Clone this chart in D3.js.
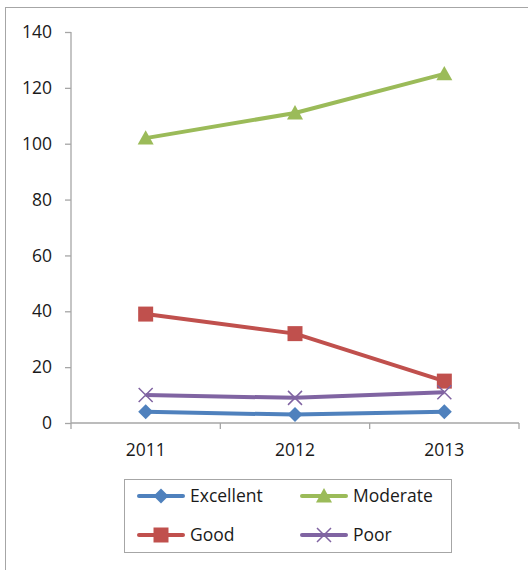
<!DOCTYPE html>
<html lang="en">
<head>
    <meta charset="UTF-8">
    <script src="https://d3js.org/d3.v7.min.js"></script>
    <style>
        body { margin: 0; background: #fff; }
        svg { display: block; font-family: "Open Sans", Lato, sans-serif; }
    </style>
</head>
<body>
    <svg width="528" height="570"></svg>
    <script>
        const years = ['2011', '2012', '2013'];
        const excellent = [4, 3, 4];
        const good = [39, 32, 15];
        const moderate = [102, 111, 125];
        const poor = [10, 9, 11];
        const yTicks = [0, 20, 40, 60, 80, 100, 120, 140];

        const series = [
            { name: 'Excellent', values: excellent, color: '#4F81BD', marker: 'diamond' },
            { name: 'Good', values: good, color: '#C0504D', marker: 'square' },
            { name: 'Moderate', values: moderate, color: '#9BBB59', marker: 'triangle' },
            { name: 'Poor', values: poor, color: '#8064A2', marker: 'cross' }
        ];

        const margin = { top: 32, left: 71, right: 519, bottom: 423 };
        const fontSize = 17.5;
        const textColor = '#1a1a1a';
        const svg = d3.select('svg');

        // chart frame
        svg.append('rect')
            .attr('x', 5.5).attr('y', 7.5)
            .attr('width', 540).attr('height', 580)
            .attr('fill', 'none').attr('stroke', '#a6a6a6');

        const xScale = d3.scaleBand()
            .domain(years)
            .range([margin.left, margin.right]);

        const yScale = d3.scaleLinear()
            .domain([0, 140])
            .range([margin.bottom, margin.top]);

        const yAxis = d3.axisLeft(yScale).tickValues(yTicks).tickSize(6).tickPadding(13);
        const yg = svg.append('g')
            .attr('transform', `translate(${margin.left}, 0)`)
            .call(yAxis);

        const xAxis = d3.axisBottom(xScale).tickSize(0).tickPadding(21);
        const xg = svg.append('g')
            .attr('transform', `translate(0, ${margin.bottom})`)
            .call(xAxis);
        // category boundary ticks
        const bounds = years.map(y => xScale(y)).concat([margin.right]);
        xg.selectAll('.bound')
            .data(bounds)
            .enter().append('line')
            .attr('class', 'bound')
            .attr('x1', d => d).attr('x2', d => d)
            .attr('y1', 0).attr('y2', 6);

        [yg, xg].forEach(g => {
            g.selectAll('path.domain').attr('stroke', '#a6a6a6').attr('stroke-width', 1.3);
            g.selectAll('line').attr('stroke', '#a6a6a6').attr('stroke-width', 1.3);
            g.selectAll('text').attr('font-size', fontSize).attr('fill', textColor)
                .attr('font-family', '"Open Sans", Lato, sans-serif');
        });
        yg.select('path.domain').attr('d', `M0,${margin.top}V${margin.bottom}`);
        xg.select('path.domain').attr('d', `M${margin.left},0H${margin.right}`);

        // marker shapes, half-size in px
        const markerPath = {
            diamond: r => `M0,${-r}L${r},0L0,${r}L${-r},0Z`,
            square: r => `M${-r},${-r}H${r}V${r}H${-r}Z`,
            triangle: r => `M0,${-r}L${r},${r * 0.8}L${-r},${r * 0.8}Z`,
            cross: r => `M${-r},${-r}L${r},${r}M${r},${-r}L${-r},${r}`
        };
        const markerSize = { diamond: 7.5, square: 7.5, triangle: 8, cross: 7 };

        function drawMarker(g, s, x, y) {
            const m = g.append('path')
                .attr('d', markerPath[s.marker](markerSize[s.marker]))
                .attr('transform', `translate(${x}, ${y})`);
            if (s.marker === 'cross') {
                m.attr('fill', 'none').attr('stroke', s.color).attr('stroke-width', 1.5);
            } else {
                m.attr('fill', s.color);
            }
        }

        const cx = d => xScale(d) + xScale.bandwidth() / 2;
        const line = d3.line()
            .x((d, i) => cx(years[i]))
            .y(d => yScale(d));

        series.forEach(s => {
            const g = svg.append('g');
            g.append('path')
                .datum(s.values)
                .attr('d', line)
                .attr('fill', 'none')
                .attr('stroke', s.color)
                .attr('stroke-width', 4)
                .attr('stroke-linejoin', 'round');
            s.values.forEach((v, i) => drawMarker(g, s, cx(years[i]), yScale(v)));
        });

        // legend
        const legend = svg.append('g');
        legend.append('rect')
            .attr('x', 124.5).attr('y', 479.5)
            .attr('width', 327).attr('height', 73)
            .attr('fill', '#fff').attr('stroke', '#a6a6a6');

        const legendOrder = ['Excellent', 'Moderate', 'Good', 'Poor'];
        legendOrder.forEach((name, i) => {
            const s = series.find(d => d.name === name);
            const lx = i % 2 === 0 ? 139 : 302;
            const ly = i < 2 ? 496 : 535;
            const item = legend.append('g');
            item.append('line')
                .attr('x1', lx).attr('x2', lx + 44)
                .attr('y1', ly).attr('y2', ly)
                .attr('stroke', s.color).attr('stroke-width', 4)
                .attr('stroke-linecap', 'round');
            drawMarker(item, s, lx + 22, ly);
            item.append('text')
                .attr('x', lx + 51).attr('y', ly)
                .attr('dy', '0.35em')
                .attr('font-size', fontSize)
                .attr('fill', textColor)
                .text(name);
        });
    </script>
</body>
</html>
